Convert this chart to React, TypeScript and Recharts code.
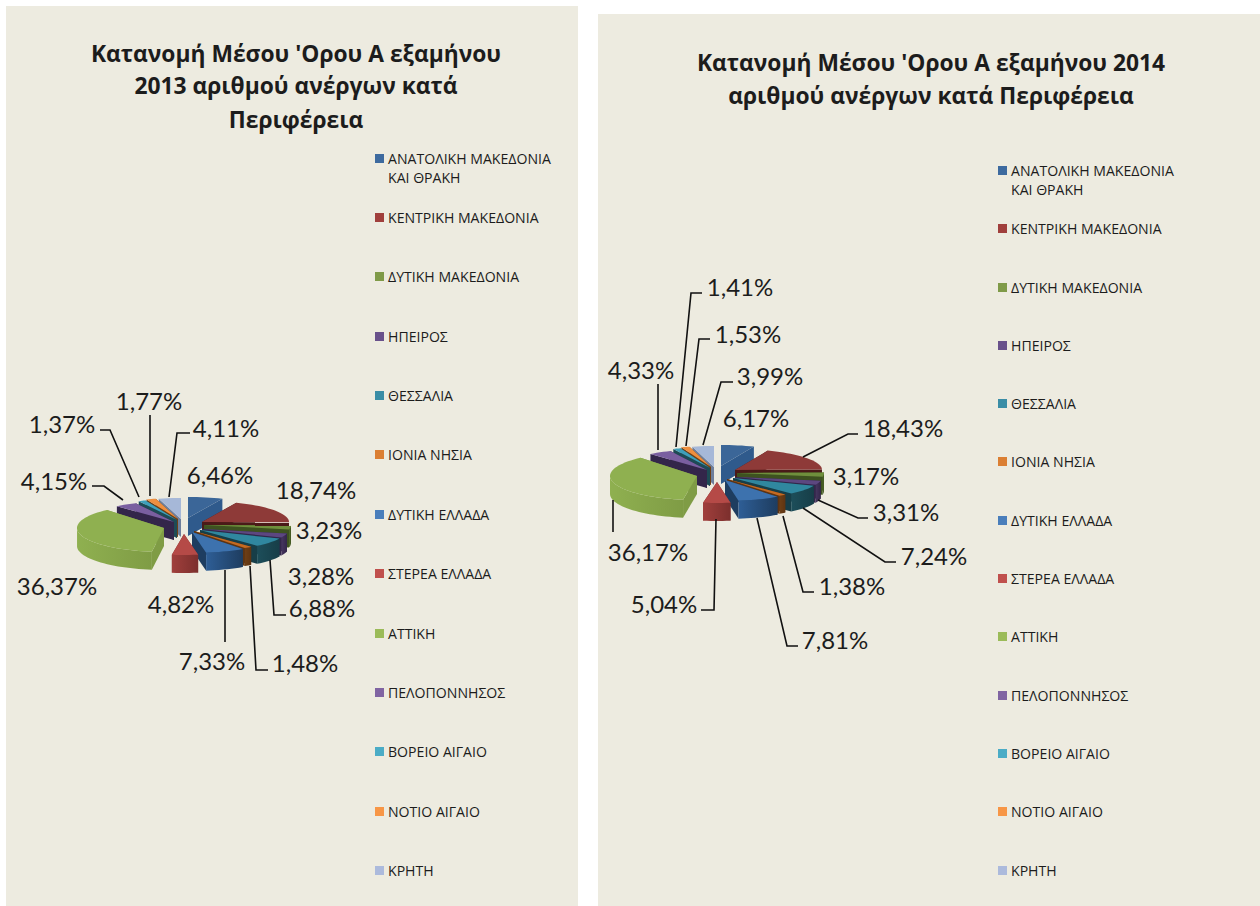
import React from "react";
import { PieChart, Pie, Legend } from "recharts";

const regions = [
  "ΑΝΑΤΟΛΙΚΗ ΜΑΚΕΔΟΝΙΑ ΚΑΙ ΘΡΑΚΗ",
  "ΚΕΝΤΡΙΚΗ ΜΑΚΕΔΟΝΙΑ",
  "ΔΥΤΙΚΗ ΜΑΚΕΔΟΝΙΑ",
  "ΗΠΕΙΡΟΣ",
  "ΘΕΣΣΑΛΙΑ",
  "ΙΟΝΙΑ ΝΗΣΙΑ",
  "ΔΥΤΙΚΗ ΕΛΛΑΔΑ",
  "ΣΤΕΡΕΑ ΕΛΛΑΔΑ",
  "ΑΤΤΙΚΗ",
  "ΠΕΛΟΠΟΝΝΗΣΟΣ",
  "ΒΟΡΕΙΟ ΑΙΓΑΙΟ",
  "ΝΟΤΙΟ ΑΙΓΑΙΟ",
  "ΚΡΗΤΗ",
];
const values2013 = [6.46, 18.74, 3.23, 3.28, 6.88, 1.48, 7.33, 4.82, 36.37, 4.15, 1.37, 1.77, 4.11];
const values2014 = [6.17, 18.43, 3.17, 3.31, 7.24, 1.38, 7.81, 5.04, 36.17, 4.33, 1.41, 1.53, 3.99];

const legendColors = ["#3d6a9f", "#a03f3c", "#7f9a48", "#69518b", "#3a8da6", "#db7f33", "#4a7ebb", "#c0504d", "#9bbb59", "#8064a2", "#4bacc6", "#f79646", "#acbadc"];
const topColors = ["#3b6698", "#8e3a38", "#6f8f3c", "#5c4780", "#30879f", "#c46a22", "#3d72ae", "#b54a47", "#8fb050", "#7a5fa0", "#3fa0bb", "#ee8f3f", "#a6b8d8"];
const wallLight = ["#335d8f", "#6e2b29", "#55702c", "#46365f", "#1d4e5a", "#6e3f15", "#2e5e96", "#a03f3c", "#8fb050", "#4a3868", "#276a7c", "#8a4d18", "#c4d0e4"];
const wallDark = ["#2f5a8c", "#4a1a18", "#3e5220", "#33264a", "#173e48", "#5e3412", "#1e3d60", "#7c2f2d", "#7f9c45", "#33264a", "#1d4b55", "#6e3f15", "#6e7f9c"];

// how far each wedge is pulled out of the pie, in px
const explode = [[-1, -6], [13, -2], [15, 1], [13, 5], [11, 6], [5, 7], [3, 8], [-5, 10], [-25, 4], [-15, -2], [-12, -4], [-11, -5], [-8, -5]];
// back wedges on the left have to be painted before the ones in front of them
const paintOrder = [0, 1, 2, 3, 4, 5, 6, 7, 12, 11, 10, 9, 8];

const RX = 87;
const RY = 21;
const RY_ATTICA = 24;
const DEPTH = 18;

// label centre x, y and leader points for every wedge
const labels2013: [number, number, number[][]][] = [
  [220, 474, []],
  [316, 489, []],
  [329, 529, []],
  [321, 575, []],
  [322, 607, [[270, 560], [274, 615], [286, 615]]],
  [305, 662, [[250, 566], [256, 670], [268, 670]]],
  [212, 660, [[225, 570], [225, 642]]],
  [181, 603, []],
  [57, 585, []],
  [54, 480, [[92, 486], [104, 486], [123, 500]]],
  [62, 423, [[100, 430], [110, 430], [139, 497]]],
  [149, 400, [[150, 415], [150, 496]]],
  [226, 427, [[190, 433], [177, 433], [169, 497]]],
];
const labels2014: [number, number, number[][]][] = [
  [756, 417, []],
  [903, 427, [[803, 457], [848, 434], [858, 434]]],
  [866, 475, []],
  [906, 511, [[818, 500], [858, 518], [868, 518]]],
  [934, 555, [[803, 508], [885, 562], [896, 562]]],
  [852, 585, [[783, 516], [803, 592], [814, 592]]],
  [835, 639, [[757, 518], [787, 646], [798, 646]]],
  [664, 603, [[716, 519], [714, 610], [701, 610]]],
  [648, 551, [[613, 500], [613, 532]]],
  [641, 369, [[658, 384], [658, 450]]],
  [740, 286, [[702, 293], [691, 293], [676, 447]]],
  [748, 333, [[710, 339], [699, 339], [686, 446]]],
  [770, 375, [[733, 382], [721, 382], [703, 445]]],
];

const toRows = (values: number[]) =>
  values.map((value, i) => ({ name: regions[i], value, fill: legendColors[i] }));

const pct = (v: number) => v.toFixed(2).replace(".", ",") + "%";

function Wedge(props: any) {
  const { cx, cy, startAngle, endAngle, index, chartId } = props;
  const ox = cx + explode[index][0];
  const oy = cy + explode[index][1];
  const ry = index === 8 ? RY_ATTICA : RY;
  const pt = (deg: number) => {
    const a = (deg * Math.PI) / 180;
    return [ox + RX * Math.cos(a), oy - ry * Math.sin(a)];
  };
  const arc: number[][] = [];
  const steps = Math.max(4, Math.ceil(Math.abs(startAngle - endAngle) / 3));
  for (let i = 0; i <= steps; i++) arc.push(pt(startAngle + ((endAngle - startAngle) * i) / steps));
  const line = (pts: number[][]) => pts.map((p) => p.join(",")).join(" ");

  // the part of the rim that faces the viewer
  const rim: number[][] = [];
  for (let i = 0; i <= steps; i++) {
    const deg = startAngle + ((endAngle - startAngle) * i) / steps;
    if (Math.sin((deg * Math.PI) / 180) <= 0.02) rim.push(pt(deg));
  }
  const gradId = `rim-${chartId}-${index}`;
  const first = pt(startAngle);
  const last = pt(endAngle);
  return (
    <g style={{ filter: "blur(0.5px)" }}>
      <defs>
        <linearGradient id={gradId} x1="0" y1="0" x2="1" y2="0">
          <stop offset="0%" stopColor={wallLight[index]} />
          <stop offset="100%" stopColor={wallDark[index]} />
        </linearGradient>
      </defs>
      <polygon fill={wallDark[index]} points={line([[ox, oy], first, [first[0], first[1] + DEPTH], [ox, oy + DEPTH]])} />
      <polygon fill={wallDark[index]} points={line([[ox, oy], last, [last[0], last[1] + DEPTH], [ox, oy + DEPTH]])} />
      {rim.length > 1 && (
        <polygon
          fill={`url(#${gradId})`}
          points={line([...rim, ...rim.slice().reverse().map((p) => [p[0], p[1] + DEPTH])])}
        />
      )}
      <polygon fill={topColors[index]} points={line([[ox, oy], ...arc])} />
    </g>
  );
}

function LegendList({ payload, rowH }: any) {
  const items = (payload || []).filter((item: any) => item.type !== "none");
  return (
    <div style={{ fontFamily: "'Open Sans', sans-serif", fontSize: 14.1, color: "#1c1c1c", lineHeight: "19px" }}>
      {items.map((item: any) => (
        <div key={item.value} style={{ height: rowH, position: "relative", paddingLeft: 13 }}>
          <span style={{ position: "absolute", left: 0, top: 5, width: 9, height: 9, background: item.color }} />
          {item.value}
        </div>
      ))}
    </div>
  );
}

function Panel({ chartId, values, labels, cx, cy, titleX, titleLines, legendX, legendY, rowH }: any) {
  const renderLabel = (p: any) => {
    const [x, y, leader] = labels[p.index];
    return (
      <g key={p.index}>
        {leader.length > 0 && (
          <polyline
            points={leader.map((l: number[]) => l.join(",")).join(" ")}
            fill="none"
            stroke="#111"
            strokeWidth={1.6}
          />
        )}
        <text x={x} y={y} textAnchor="middle" dominantBaseline="central" fontFamily="Lato, 'Open Sans', sans-serif" fontSize={24} fill="#1c1c1c">
          {pct(values[p.index])}
        </text>
      </g>
    );
  };
  const rows = toRows(values);
  return (
    <div style={{ position: "absolute", left: 0, top: 0 }}>
      <PieChart width={1260} height={906} margin={{ top: 0, right: 0, bottom: 0, left: 0 }}>
        {titleLines.map((t: any[], i: number) => (
          <text key={i} x={titleX} y={t[1]} textAnchor="middle" dominantBaseline="central" fontFamily="'Open Sans', sans-serif" fontWeight={700} fontSize={22.8} fill="#1c1c1c">
            {t[0]}
          </text>
        ))}
        {paintOrder.map((slice, n) => (
          <Pie
            key={slice}
            data={rows}
            dataKey="value"
            nameKey="name"
            cx={cx}
            cy={cy}
            outerRadius={RX}
            startAngle={90}
            endAngle={-270}
            stroke="none"
            isAnimationActive={false}
            legendType={n === 0 ? "square" : "none"}
            labelLine={false}
            label={n === paintOrder.length - 1 ? renderLabel : false}
            shape={(p: any) => (p.index === slice ? <Wedge {...p} chartId={chartId} /> : <g />)}
          />
        ))}
        <Legend
          layout="vertical"
          itemSorter={null}
          content={(p: any) => <LegendList payload={p.payload} rowH={rowH} />}
          wrapperStyle={{ left: legendX, top: legendY, width: 186 }}
        />
      </PieChart>
    </div>
  );
}

export default function App() {
  return (
    <div style={{ position: "fixed", left: 0, top: 0, width: 1260, height: 906, background: "#fff", overflow: "hidden" }}>
      <div style={{ position: "absolute", left: 6, top: 6, width: 572, height: 900, background: "#edebe0" }} />
      <div style={{ position: "absolute", left: 598, top: 14, width: 662, height: 892, background: "#edebe0" }} />
      <Panel
        chartId="a"
        values={values2013}
        labels={labels2013}
        cx={189}
        cy={524}
        titleX={296}
        titleLines={[["Κατανομή Μέσου 'Ορου Α εξαμήνου", 53], ["2013 αριθμού ανέργων κατά", 85], ["Περιφέρεια", 119]]}
        legendX={375}
        legendY={148.5}
        rowH={59.4}
      />
      <Panel
        chartId="b"
        values={values2014}
        labels={labels2014}
        cx={722}
        cy={472}
        titleX={931}
        titleLines={[["Κατανομή Μέσου 'Ορου Α εξαμήνου 2014", 62], ["αριθμού ανέργων κατά Περιφέρεια", 95]]}
        legendX={998}
        legendY={161}
        rowH={58.3}
      />
    </div>
  );
}
